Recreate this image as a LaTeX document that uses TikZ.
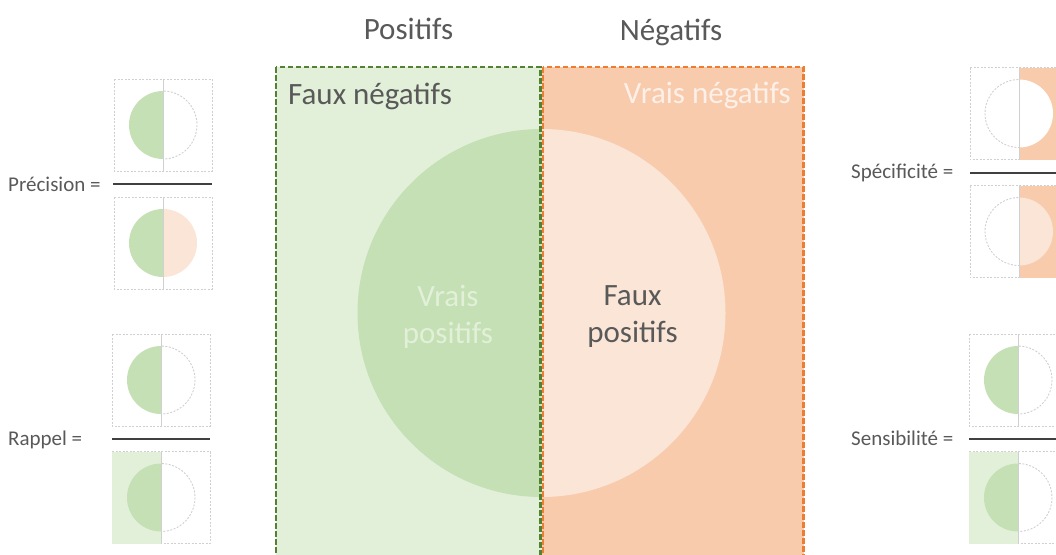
\documentclass[tikz,border=0pt]{standalone}
\usepackage{fontspec}
\setmainfont{Carlito}
\definecolor{gfillc}{HTML}{E2F0D9}
\definecolor{gcircc}{HTML}{C5E0B4}
\definecolor{gline}{HTML}{548235}
\definecolor{ofillc}{HTML}{F8CBAD}
\definecolor{ocircc}{HTML}{FBE5D6}
\definecolor{oline}{HTML}{ED7D31}
\definecolor{txtgray}{HTML}{595959}
\definecolor{boxgray}{HTML}{D0D0D0}
\definecolor{bargray}{HTML}{404040}
\definecolor{vnegtxt}{HTML}{FDF0E8}
\newcommand{\rkframe}[4]{%
  \draw[minibox] (#1-49,#2-46) rectangle (#1+49,#2+46);
  \path[fill=#3] (#1-49,#2-46) rectangle (#1,#2+46);
  \path[fill=#4] (#1,#2-46) rectangle (#1+49,#2+46);}
\newcommand{\rkhalfL}[3]{\begin{scope}\clip (#1-40,#2-40) rectangle (#1,#2+40);\path[#3] (#1,#2) circle[radius=34];\end{scope}}
\newcommand{\rkhalfR}[3]{\begin{scope}\clip (#1,#2-40) rectangle (#1+40,#2+40);\path[#3] (#1,#2) circle[radius=34];\end{scope}}
\newcommand{\rkmid}[2]{\draw[midline] (#1,#2-46) -- (#1,#2+46);}
\begin{document}
\begin{tikzpicture}[x=1pt,y=-1pt,
  bigtxt/.style={inner sep=0pt,font=\fontsize{31}{37}\selectfont,text=txtgray},
  smalltxt/.style={inner sep=0pt,font=\fontsize{21}{24}\selectfont,text=txtgray,anchor=base west},
  gborder/.style={draw=gline,line width=2.4pt,dash pattern=on 5.5pt off 2.5pt},
  oborder/.style={draw=oline,line width=2.4pt,dash pattern=on 5.5pt off 2.5pt},
  minibox/.style={draw=boxgray,line width=0.9pt,dash pattern=on 2pt off 1.5pt},
  cdash/.style={draw=boxgray,line width=0.9pt,dash pattern=on 2pt off 1.5pt},
  midline/.style={draw=boxgray,line width=1pt},
  fracbar/.style={draw=bargray,line width=2.8pt}]
\useasboundingbox (0,0) rectangle (1056,554);
\clip (0,0) rectangle (1056,554);
% main panels
\fill[gfillc] (276,67) rectangle (541.5,570);
\fill[ofillc] (541.5,67) rectangle (803.5,570);
\begin{scope}\clip (340,100) rectangle (541.5,560);\fill[gcircc] (541.5,313) circle[radius=184];\end{scope}
\begin{scope}\clip (541.5,100) rectangle (760,560);\fill[ocircc] (541.5,313) circle[radius=184];\end{scope}
\draw[gborder] (276,67) rectangle (540.5,575);
\draw[oborder] (542.8,67) rectangle (803.5,575);
% titles
\node[bigtxt,anchor=base] (pos) at (408.5,39.5) {Positifs};
\node[bigtxt,anchor=base] (neg) at (671,40) {Négatifs};
\node[bigtxt,anchor=base west] (fn) at (288,104) {Faux négatifs};
\node[bigtxt,anchor=base east,text=vnegtxt] (vn) at (791,103) {Vrais négatifs};
\node[bigtxt,align=center,text=gfillc] (vp) at (448,317) {Vrais\\positifs};
\node[bigtxt,align=center] (fp) at (632.5,317) {Faux\\positifs};
% Precision
\rkframe{163}{125}{none}{none}
\rkhalfL{163}{125}{fill=gcircc}\rkhalfR{163}{125}{cdash}\rkmid{163}{125}
\rkframe{163}{243}{none}{none}
\rkhalfL{163}{243}{fill=gcircc}\rkhalfR{163}{243}{fill=ocircc}\rkmid{163}{243}
\coordinate (pa) at (113,184); \coordinate (pb) at (212,184);
\draw[fracbar] (pa) -- (pb);
\node[smalltxt] (prec) at (8,191) {Précision =};
% Rappel
\rkframe{161}{380}{none}{none}
\rkhalfL{161}{380}{fill=gcircc}\rkhalfR{161}{380}{cdash}\rkmid{161}{380}
\rkframe{161}{497.5}{gfillc}{none}
\rkhalfL{161}{497.5}{fill=gcircc}\rkhalfR{161}{497.5}{cdash}\rkmid{161}{497.5}
\coordinate (ra) at (112,439); \coordinate (rb) at (210,439);
\draw[fracbar] (ra) -- (rb);
\node[smalltxt] (rap) at (8,445) {Rappel =};
% Specificite
\rkframe{1019}{113.5}{none}{ofillc}
\rkhalfL{1019}{113.5}{cdash}\rkhalfR{1019}{113.5}{fill=white}\rkmid{1019}{113.5}
\rkframe{1019}{231.5}{none}{ofillc}
\rkhalfL{1019}{231.5}{cdash}\rkhalfR{1019}{231.5}{fill=ocircc}\rkmid{1019}{231.5}
\coordinate (sa) at (970,173); \coordinate (sb) at (1068,173);
\draw[fracbar] (sa) -- (sb);
\node[smalltxt] (spe) at (851,178.5) {Spécificité =};
% Sensibilite
\rkframe{1018}{380}{none}{none}
\rkhalfL{1018}{380}{fill=gcircc}\rkhalfR{1018}{380}{cdash}\rkmid{1018}{380}
\rkframe{1018}{497.5}{gfillc}{none}
\rkhalfL{1018}{497.5}{fill=gcircc}\rkhalfR{1018}{497.5}{cdash}\rkmid{1018}{497.5}
\coordinate (na) at (969,439); \coordinate (nb) at (1067,439);
\draw[fracbar] (na) -- (nb);
\node[smalltxt] (sen) at (851,445) {Sensibilité =};
\end{tikzpicture}
\end{document}
